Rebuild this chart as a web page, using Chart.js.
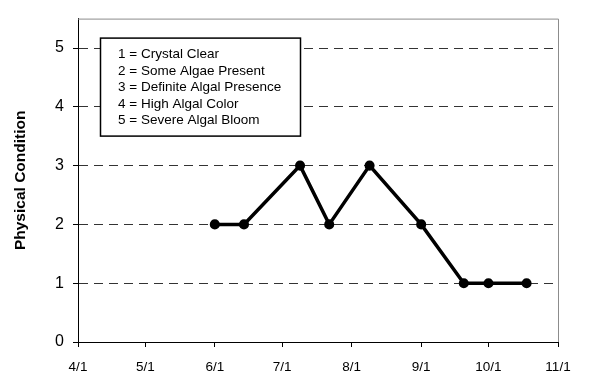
<!DOCTYPE html>
<html><head><meta charset="utf-8">
<script src="https://cdn.jsdelivr.net/npm/chart.js@4/dist/chart.umd.min.js"></script>
<style>html,body{margin:0;padding:0;background:#fff}#wrap{width:589px;height:379px}</style>
</head><body><div id="wrap"><canvas id="c" width="589" height="379"></canvas></div>
<script>
const sampleDates = ['2000-06-01','2000-06-14','2000-07-09','2000-07-22','2000-08-09','2000-09-01','2000-09-20','2000-10-01','2000-10-18'];
const conditionValues = [2,2,3,2,3,2,1,1,1];
const xTickDates = ['2000-04-01','2000-05-01','2000-06-01','2000-07-01','2000-08-01','2000-09-01','2000-10-01','2000-11-01'];
const xTickLabels = ['4/1','5/1','6/1','7/1','8/1','9/1','10/1','11/1'];
const yTickValues = [0,1,2,3,4,5];
const legendLines = ['1 = Crystal Clear','2 = Some Algae Present','3 = Definite Algal Presence','4 = High Algal Color','5 = Severe Algal Bloom'];
const yTitle = 'Physical Condition';

const DAY = 86400000;
const origin = Date.parse(xTickDates[0]);
const toDay = d => Math.round((Date.parse(d) - origin) / DAY);
const xTickDays = xTickDates.map(toDay);
const points = sampleDates.map((d,i)=>({x: toDay(d), y: conditionValues[i]}));

const FONT = 'Arial, "Liberation Sans", sans-serif';

const framePlugin = {
  id:'frame',
  beforeDatasetsDraw(chart){
    const a = chart.chartArea, ctx = chart.ctx;
    ctx.save();
    ctx.strokeStyle = '#8c8c8c'; ctx.lineWidth = 1;
    ctx.beginPath();
    ctx.moveTo(a.left, a.top+0.5); ctx.lineTo(a.right+0.5, a.top+0.5); ctx.lineTo(a.right+0.5, a.bottom);
    ctx.stroke();
    ctx.restore();
  },
  afterDraw(chart){
    const a = chart.chartArea, ctx = chart.ctx;
    ctx.save();
    const bx = a.left + 22, by = a.top + 19, bw = 200, bh = 98;
    ctx.fillStyle = '#fff';
    ctx.fillRect(bx, by, bw, bh);
    ctx.strokeStyle = '#000'; ctx.lineWidth = 1.5;
    ctx.strokeRect(bx+0.5, by+0.5, bw, bh);
    ctx.fillStyle = '#000';
    ctx.font = '13.5px ' + FONT;
    ctx.textBaseline = 'middle';
    legendLines.forEach((t,i)=>ctx.fillText(t, bx + 18, by + 17 + i*16.5));
    ctx.restore();
  }
};

new Chart(document.getElementById('c'), {
  type:'line',
  data:{datasets:[{data:points, borderColor:'#000', backgroundColor:'#000', borderWidth:3.5, pointRadius:3.3, pointHoverRadius:3.3, tension:0}]},
  options:{
    responsive:false, animation:false,
    plugins:{legend:{display:false}, tooltip:{enabled:false}},
    layout:{padding:{left:0, right:31, top:6, bottom:0}},
    scales:{
      x:{
        type:'linear', min:xTickDays[0], max:xTickDays[xTickDays.length-1],
        afterBuildTicks(s){ s.ticks = xTickDays.map(v=>({value:v})); },
        afterFit(s){ s.height = 37; },
        border:{color:'#000', width:1},
        grid:{drawOnChartArea:false, tickLength:5, tickColor:'#000'},
        ticks:{color:'#000', font:{family:FONT, size:13.5}, padding:12, maxRotation:0, autoSkip:false,
          callback(v){ const i = xTickDays.indexOf(v); return i>=0 ? xTickLabels[i] : ''; }}
      },
      y:{
        min:0, max:5.5,
        afterBuildTicks(s){ s.ticks = yTickValues.map(v=>({value:v})); },
        afterFit(s){ s.width = 78; },
        border:{color:'#000', width:1, dash:[9,6]},
        grid:{tickLength:5, tickColor:'#000', tickBorderDash:[], color:c=> c.tick && c.tick.value>0 ? '#333' : 'rgba(0,0,0,0)', lineWidth:1},
        ticks:{color:'#000', font:{family:FONT, size:16}, padding:9},
        title:{display:true, text:yTitle, color:'#000', font:{family:FONT, size:15.5, weight:'bold'}, padding:{top:11,bottom:0}}
      }
    }
  },
  plugins:[framePlugin]
});
</script></body></html>
